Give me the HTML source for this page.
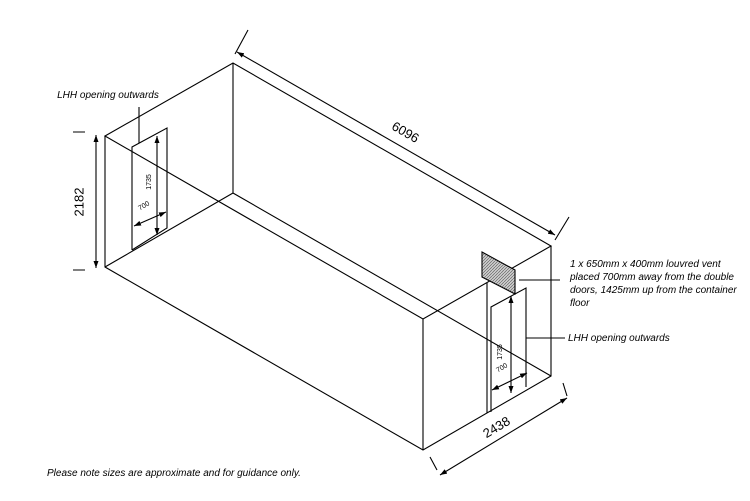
<!DOCTYPE html>
<html><head><style>
body{margin:0;background:#fff;}
svg{display:block}
text{font-family:"Liberation Sans",sans-serif;fill:#000}
.i{font-style:italic;font-size:10px}
</style></head><body>
<svg width="750" height="501" viewBox="0 0 750 501">
<defs>
<pattern id="h" width="3" height="3" patternUnits="userSpaceOnUse">
<rect width="3" height="3" fill="#ccc"/><path d="M0 3L3 0" stroke="#555" stroke-width="0.6"/>
</pattern>
<marker id="a" markerWidth="7" markerHeight="5" refX="7" refY="2.5" orient="auto-start-reverse" markerUnits="userSpaceOnUse">
<path d="M0 0L7 2.5L0 5z" fill="#000"/></marker>
</defs>
<g stroke="#000" stroke-width="1.1" fill="none">
<path d="M105 136L233 63L551 246L423 319L105 136Z"/>
<path d="M105 136L105 267L423 450L551 376L551 246"/>
<path d="M423 319L423 450"/>
<path d="M233 63L233 193L551 376"/>
<path d="M233 193L105 267"/>
<path d="M132 250L132 147L167 128L167 228L132 250"/>
<path d="M157 136L157 235" marker-start="url(#a)" marker-end="url(#a)"/>
<path d="M134 226L166 212" marker-start="url(#a)" marker-end="url(#a)"/>
<path d="M139 107L139 143"/>
<path d="M487 413L487 283"/>
<path d="M491 412L491 307L526 288L526 387"/>
<path d="M511 296L511 393" marker-start="url(#a)" marker-end="url(#a)"/>
<path d="M492 390L527 373" marker-start="url(#a)" marker-end="url(#a)"/>
<path d="M482 252L515 270L515 294L482 277Z" fill="url(#h)"/>
<path d="M519 280L560 280"/>
<path d="M526 338L565 338"/>
<path d="M96 135L96 268" marker-start="url(#a)" marker-end="url(#a)"/>
<path d="M73 132L85 132M73 270L85 270"/>
<path d="M237 52L555 235" marker-start="url(#a)" marker-end="url(#a)"/>
<path d="M235 54L248 30M555 240L569 217"/>
<path d="M440 475L567 398" marker-start="url(#a)" marker-end="url(#a)"/>
<path d="M430 457L437 470M563 383L567 396"/>
</g>
<text x="80" y="202" font-size="13" text-anchor="middle" transform="rotate(-90 80 202)" dominant-baseline="middle">2182</text>
<text x="405" y="133" font-size="13" text-anchor="middle" transform="rotate(30 405 133)" dominant-baseline="middle">6096</text>
<text x="497" y="428" font-size="13" text-anchor="middle" transform="rotate(-31 497 428)" dominant-baseline="middle">2438</text>
<text x="149" y="182" font-size="7" text-anchor="middle" transform="rotate(-90 149 182)" dominant-baseline="middle">1735</text>
<text x="144" y="206" font-size="7" text-anchor="middle" transform="rotate(-30 144 206)" dominant-baseline="middle">700</text>
<text x="500" y="352" font-size="7" text-anchor="middle" transform="rotate(-90 500 352)" dominant-baseline="middle">1735</text>
<text x="502" y="368" font-size="7" text-anchor="middle" transform="rotate(-30 502 368)" dominant-baseline="middle">700</text>
<text class="i" x="108" y="98" text-anchor="middle">LHH opening outwards</text>
<text class="i" x="570" y="267">1 x 650mm x 400mm louvred vent</text>
<text class="i" x="570" y="280">placed 700mm away from the double</text>
<text class="i" x="570" y="293">doors, 1425mm up from the container</text>
<text class="i" x="570" y="306">floor</text>
<text class="i" x="568" y="341">LHH opening outwards</text>
<text class="i" x="47" y="476" font-size="9.5">Please note sizes are approximate and for guidance only.</text>
</svg>
</body></html>
